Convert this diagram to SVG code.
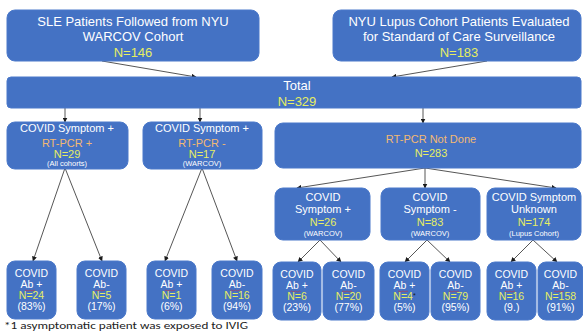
<svg xmlns="http://www.w3.org/2000/svg" width="583" height="331" viewBox="0 0 583 331">
<defs>
<style>
.box{fill:#4472C4;stroke:#4B79CA;stroke-width:1}
text{font-family:"Liberation Sans",Arial,sans-serif;text-anchor:middle;fill:#FFFFFF}
.t13{font-size:13px}
.t11{font-size:11px}
.t95{font-size:10.5px}
.sm{font-size:7.5px}
.n{fill:#E6EE62}
.o{fill:#F3B972}
.c{stroke:#2B2B2B;stroke-width:0.8;fill:none;marker-end:url(#ah)}
.sq{stroke:#D03030;stroke-width:0.6;fill:none}
.fn{font-family:Carlito,"Liberation Sans Narrow","Liberation Sans",sans-serif;font-size:10px;fill:#222;text-anchor:start}
</style>
<marker id="ah" markerWidth="5" markerHeight="5" refX="4.5" refY="2.5" orient="auto" markerUnits="userSpaceOnUse">
<path d="M0,0 L5,2.5 L0,5 Z" fill="#1A1A1A"/>
</marker>
</defs>
<rect width="583" height="331" fill="#FFFFFF"/>
<g id="connectors">
<line class="c" x1="102" y1="61" x2="196" y2="77"/>
<line class="c" x1="487" y1="61" x2="392" y2="77"/>
<line class="c" x1="65" y1="108" x2="65" y2="122"/>
<line class="c" x1="200" y1="108" x2="200" y2="122"/>
<line class="c" x1="423" y1="108" x2="423" y2="123"/>
<line class="c" x1="65" y1="168" x2="33" y2="261"/>
<line class="c" x1="65" y1="168" x2="102" y2="261"/>
<line class="c" x1="202" y1="168" x2="165" y2="261"/>
<line class="c" x1="202" y1="168" x2="237" y2="261"/>
<line class="c" x1="425" y1="168" x2="297" y2="188"/>
<line class="c" x1="425" y1="168" x2="425" y2="188"/>
<line class="c" x1="425" y1="168" x2="556" y2="188"/>
<line class="c" x1="320" y1="240" x2="298" y2="262"/>
<line class="c" x1="320" y1="240" x2="341" y2="262"/>
<line class="c" x1="427" y1="240" x2="405" y2="262"/>
<line class="c" x1="427" y1="240" x2="450" y2="262"/>
<line class="c" x1="533" y1="240" x2="511" y2="262"/>
<line class="c" x1="533" y1="240" x2="557" y2="262"/>
</g>
<g id="sle">
<rect class="box" x="7" y="10" width="252" height="51" rx="8"/>
<text class="t13" x="133" y="25.5">SLE Patients Followed from NYU</text>
<text class="t13" x="133" y="41">WARCOV Cohort</text>
<text class="t13 n" x="133" y="56.5">N=146</text>
</g>
<g id="lupus">
<rect class="box" x="333" y="10" width="248" height="51" rx="8"/>
<text class="t13" x="459" y="25.5">NYU Lupus Cohort Patients Evaluated</text>
<text class="t13" x="459" y="41">for Standard of Care Surveillance</text>
<text class="t13 n" x="459" y="56.5">N=183</text>
</g>
<g id="total">
<rect class="box" x="7" y="77" width="574" height="31" rx="4"/>
<text class="t13" x="297" y="90">Total</text>
<text class="t13 n" x="297" y="105.5">N=329</text>
</g>
<g id="pcrpos">
<rect class="box" x="7" y="122" width="121" height="47" rx="8"/>
<text class="t11" x="67" y="132">COVID Symptom +</text>
<text class="t11 o" x="67" y="146.5">RT-PCR +</text>
<text class="t11 n" x="67" y="157.5">N=29</text>
<text class="sm" x="67" y="166">(All cohorts)</text>
</g>
<g id="pcrneg">
<rect class="box" x="143" y="122" width="119" height="47" rx="8"/>
<text class="t11" x="202" y="132">COVID Symptom +</text>
<text class="t11 o" x="202" y="146.5">RT-PCR -</text>
<text class="t11 n" x="202" y="157.5">N=17</text>
<text class="sm" x="202" y="166">(WARCOV)</text>
</g>
<g id="notdone">
<rect class="box" x="275" y="123" width="306" height="45" rx="8"/>
<text class="t11 o" x="431" y="142.5">RT-PCR Not Done</text>
<text class="t11 n" x="431" y="157">N=283</text>
</g>
<g id="symppos">
<rect class="box" x="275" y="188" width="95" height="52" rx="8"/>
<text class="t11" x="323" y="201">COVID</text>
<text class="t11" x="323" y="213">Symptom +</text>
<text class="t11 n" x="323" y="226">N=26</text>
<text class="sm" x="323" y="236">(WARCOV)</text>
</g>
<g id="sympneg">
<rect class="box" x="381" y="188" width="99" height="52" rx="8"/>
<text class="t11" x="430" y="201">COVID</text>
<text class="t11" x="430" y="213">Symptom -</text>
<text class="t11 n" x="430" y="226">N=83</text>
<text class="sm" x="430" y="236">(WARCOV)</text>
</g>
<g id="sympunk">
<rect class="box" x="487" y="188" width="94" height="52" rx="8"/>
<text class="t11" x="534" y="201">COVID Symptom</text>
<text class="t11" x="534" y="213">Unknown</text>
<text class="t11 n" x="534" y="226">N=174</text>
<text class="sm" x="534" y="236">(Lupus Cohort)</text>
</g>
<g id="leaf1">
<rect class="box" x="7" y="261" width="49" height="58" rx="8"/>
<text class="t95" x="31.5" y="277">COVID</text>
<text class="t95" x="31.5" y="288">Ab +</text>
<path class="sq" d="M25,290.5 q1,-1 2,0 t2,0 t2,0 t2,0 t2,0"/>
<text class="t95 n" x="31.5" y="298.5">N=24</text>
<text class="t95" x="31.5" y="310">(83%)</text>
</g>
<g id="leaf2">
<rect class="box" x="77" y="261" width="49" height="58" rx="8"/>
<text class="t95" x="101.5" y="277">COVID</text>
<text class="t95" x="101.5" y="288">Ab-</text>
<path class="sq" d="M95,290.5 q1,-1 2,0 t2,0 t2,0 t2,0 t2,0"/>
<text class="t95 n" x="101.5" y="298.5">N=5</text>
<text class="t95" x="101.5" y="310">(17%)</text>
</g>
<g id="leaf3">
<rect class="box" x="147" y="261" width="49" height="58" rx="8"/>
<text class="t95" x="171.5" y="277">COVID</text>
<text class="t95" x="171.5" y="288">Ab +</text>
<path class="sq" d="M165,290.5 q1,-1 2,0 t2,0 t2,0 t2,0 t2,0"/>
<text class="t95 n" x="171.5" y="298.5">N=1</text>
<text class="t95" x="171.5" y="310">(6%)</text>
</g>
<g id="leaf4">
<rect class="box" x="212" y="261" width="50" height="58" rx="8"/>
<text class="t95" x="237" y="277">COVID</text>
<text class="t95" x="237" y="288">Ab-</text>
<path class="sq" d="M230.5,290.5 q1,-1 2,0 t2,0 t2,0 t2,0 t2,0"/>
<text class="t95 n" x="237" y="298.5">N=16</text>
<text class="t95" x="237" y="310">(94%)</text>
</g>
<g id="leaf5">
<rect class="box" x="273" y="262" width="48" height="58" rx="8"/>
<text class="t95" x="297" y="278">COVID</text>
<text class="t95" x="297" y="289">Ab +</text>
<path class="sq" d="M290.5,291.5 q1,-1 2,0 t2,0 t2,0 t2,0 t2,0"/>
<text class="t95 n" x="297" y="299.5">N=6</text>
<text class="t95" x="297" y="311">(23%)</text>
</g>
<g id="leaf6">
<rect class="box" x="323" y="262" width="51" height="58" rx="8"/>
<text class="t95" x="348.5" y="278">COVID</text>
<text class="t95" x="348.5" y="289">Ab-</text>
<path class="sq" d="M342,291.5 q1,-1 2,0 t2,0 t2,0 t2,0 t2,0"/>
<text class="t95 n" x="348.5" y="299.5">N=20</text>
<text class="t95" x="348.5" y="311">(77%)</text>
</g>
<g id="leaf7">
<rect class="box" x="380" y="262" width="49" height="58" rx="8"/>
<text class="t95" x="404.5" y="278">COVID</text>
<text class="t95" x="404.5" y="289">Ab +</text>
<path class="sq" d="M398,291.5 q1,-1 2,0 t2,0 t2,0 t2,0 t2,0"/>
<text class="t95 n" x="404.5" y="299.5">N=4<tspan fill="#1A1A1A" font-size="7" dy="-2">*</tspan></text>
<text class="t95" x="404.5" y="311">(5%)</text>
</g>
<g id="leaf8">
<rect class="box" x="431" y="262" width="49" height="58" rx="8"/>
<text class="t95" x="455.5" y="278">COVID</text>
<text class="t95" x="455.5" y="289">Ab-</text>
<path class="sq" d="M449,291.5 q1,-1 2,0 t2,0 t2,0 t2,0 t2,0"/>
<text class="t95 n" x="455.5" y="299.5">N=79</text>
<text class="t95" x="455.5" y="311">(95%)</text>
</g>
<g id="leaf9">
<rect class="box" x="487" y="262" width="49" height="58" rx="8"/>
<text class="t95" x="511.5" y="278">COVID</text>
<text class="t95" x="511.5" y="289">Ab +</text>
<path class="sq" d="M505,291.5 q1,-1 2,0 t2,0 t2,0 t2,0 t2,0"/>
<text class="t95 n" x="511.5" y="299.5">N=16</text>
<text class="t95" x="511.5" y="311">(9.)</text>
</g>
<g id="leaf10">
<rect class="box" x="538" y="262" width="45" height="58" rx="8"/>
<text class="t95" x="560.5" y="278">COVID</text>
<text class="t95" x="560.5" y="289">Ab-</text>
<path class="sq" d="M554,291.5 q1,-1 2,0 t2,0 t2,0 t2,0 t2,0"/>
<text class="t95 n" x="560.5" y="299.5">N=158</text>
<text class="t95" x="560.5" y="311">(91%)</text>
</g>
<text class="fn" x="4" y="329" textLength="244" lengthAdjust="spacingAndGlyphs">*1 asymptomatic patient was exposed to IVIG</text>
</svg>
